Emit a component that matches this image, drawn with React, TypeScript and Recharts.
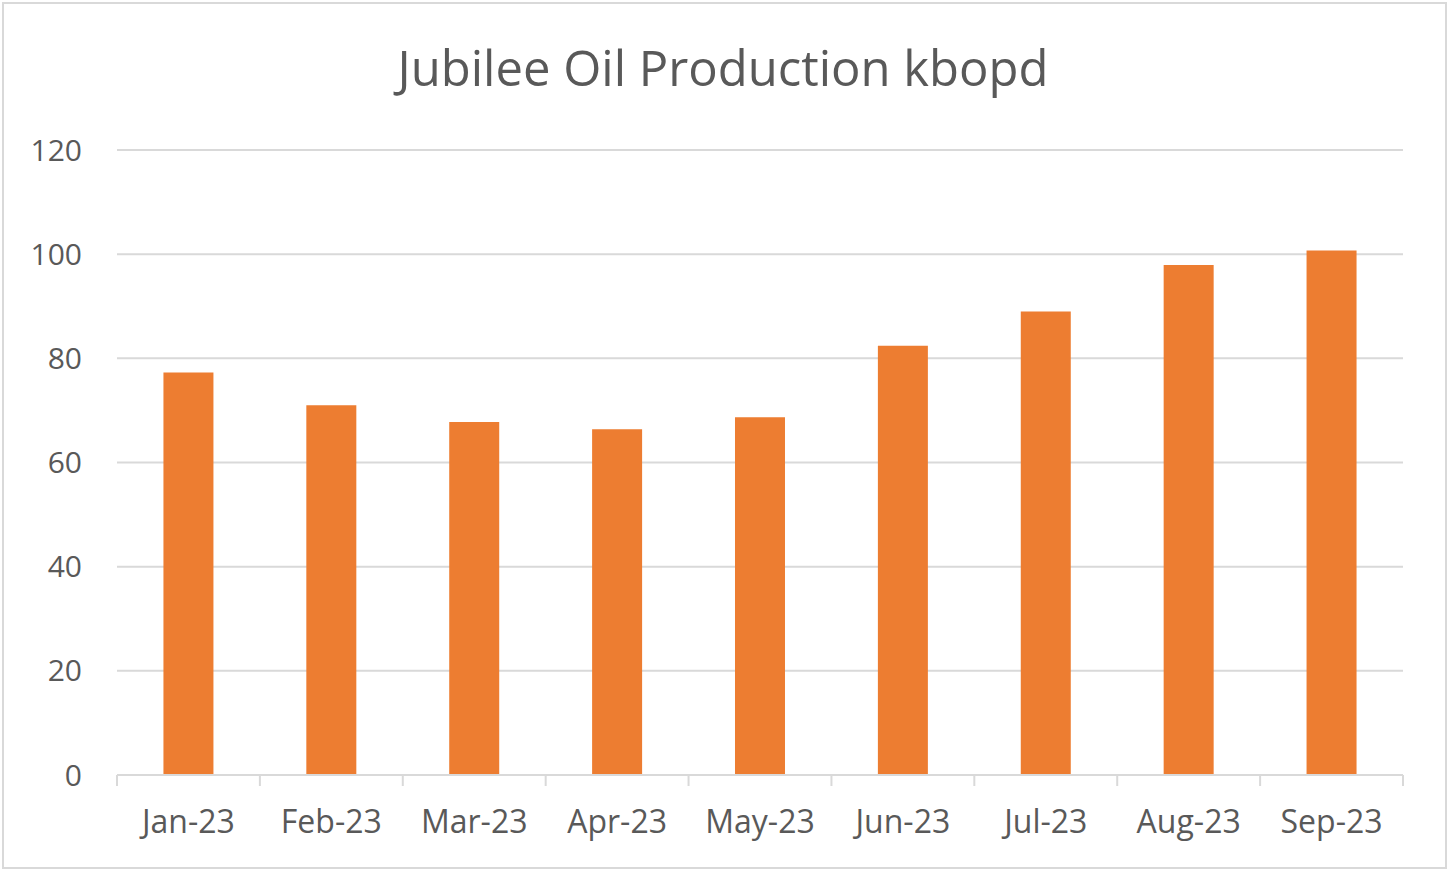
import React from 'react';
import { BarChart, Bar, XAxis, YAxis, CartesianGrid } from 'recharts';

const months = ['Jan-23', 'Feb-23', 'Mar-23', 'Apr-23', 'May-23', 'Jun-23', 'Jul-23', 'Aug-23', 'Sep-23'];
const production = [77.3, 71.0, 67.8, 66.4, 68.7, 82.4, 89.0, 97.9, 100.7];
const yTicks = [0, 20, 40, 60, 80, 100, 120];

const FONT = '"Open Sans", sans-serif';
const TEXT = '#595959';

const data = months.map((m, i) => ({ month: m, kbopd: production[i] }));

// Excel puts the x tick marks on category boundaries, not centres
function MonthTick(props: any) {
  const { x, y, payload, index, visibleTicksCount } = props;
  const half = payload?.offset ?? 0;
  const axisY = y - 8;
  const last = index === (visibleTicksCount ?? months.length) - 1;
  return (
    <g>
      <line x1={x - half} x2={x - half} y1={axisY} y2={axisY + 11} stroke="#d9d9d9" strokeWidth={2} />
      {last && (
        <line x1={x + half} x2={x + half} y1={axisY} y2={axisY + 11} stroke="#d9d9d9" strokeWidth={2} />
      )}
      <text x={x} y={axisY + 58} textAnchor="middle" fill={TEXT} fontSize={32} fontFamily={FONT}>
        {payload.value}
      </text>
    </g>
  );
}

export default function App() {
  return (
    <div style={{ position: 'absolute', left: 0, top: 0, width: 1456, height: 878, background: '#fff' }}>
      <div
        style={{
          position: 'absolute', left: 2, top: 2, width: 1445, height: 867,
          border: '2px solid #d9d9d9', boxSizing: 'border-box',
        }}
      />
      <div
        style={{
          position: 'absolute', left: 0, top: 37, width: 1446, textAlign: 'center',
          fontFamily: FONT, fontSize: 49, color: TEXT, lineHeight: '60px',
        }}
      >
        Jubilee Oil Production kbopd
      </div>
      <div style={{ position: 'absolute', left: 0, top: 0 }}>
        <BarChart
          width={1456}
          height={878}
          data={data}
          margin={{ top: 150, right: 53, bottom: 43, left: 0 }}
          barCategoryGap="32.5%"
        >
          <CartesianGrid vertical={false} stroke="#d9d9d9" strokeWidth={2} />
          <XAxis
            dataKey="month"
            height={60}
            axisLine={{ stroke: '#d9d9d9', strokeWidth: 2 }}
            tickLine={false}
            tickSize={0}
            tickMargin={8}
            tick={<MonthTick />}
            interval={0}
          />
          <YAxis
            width={117}
            domain={[0, 120]}
            ticks={yTicks}
            axisLine={false}
            tickLine={false}
            tickSize={0}
            tickMargin={35}
            tick={{ fill: TEXT, fontSize: 30, fontFamily: FONT }}
          />
          <Bar dataKey="kbopd" fill="#ed7d31" isAnimationActive={false} />
        </BarChart>
      </div>
    </div>
  );
}
